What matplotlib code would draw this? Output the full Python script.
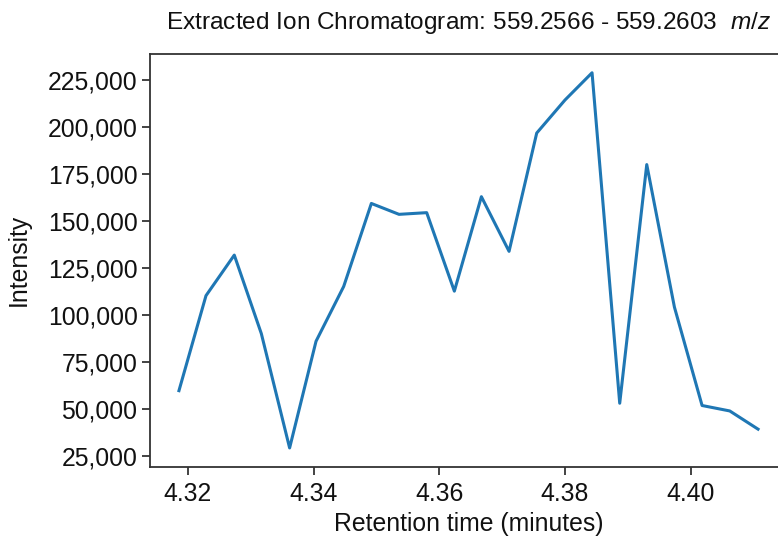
import matplotlib
matplotlib.use("Agg")
import matplotlib.pyplot as plt
from matplotlib.ticker import FuncFormatter

retention_time = [4.3186, 4.3229, 4.3274, 4.3317, 4.3362, 4.3404, 4.3448, 4.3492,
                  4.3536, 4.3580, 4.3624, 4.3667, 4.3711, 4.3755, 4.3800, 4.3843,
                  4.3887, 4.3930, 4.3974, 4.4018, 4.4062, 4.4107]
intensity = [59600, 110200, 131800, 90000, 29100, 85900, 115100, 159300,
             153500, 154400, 112600, 162900, 133800, 196800, 214400, 228900,
             52900, 180000, 104100, 51700, 48800, 39100]
xticks = [4.32, 4.34, 4.36, 4.38, 4.40]
yticks = [25000, 50000, 75000, 100000, 125000, 150000, 175000, 200000, 225000]

plt.rcParams['font.family'] = ['Liberation Sans', 'DejaVu Sans']
plt.rcParams['mathtext.fontset'] = 'custom'
plt.rcParams['mathtext.rm'] = 'Liberation Sans'
plt.rcParams['mathtext.it'] = 'Liberation Sans:italic'

fig = plt.figure(figsize=(7.78, 5.37), dpi=100)
ax = fig.add_axes([150/778, 1-466.7/537, (787-150)/778, (466.7-54)/537])
ax.plot(retention_time, intensity, color='#1f77b4', linewidth=2.2)
ax.set_xticks(xticks)
ax.set_yticks(yticks)
ax.xaxis.set_major_formatter(FuncFormatter(lambda v, p: f"{v:.2f}"))
ax.yaxis.set_major_formatter(FuncFormatter(lambda v, p: f"{int(v):,}"))
ax.tick_params(labelsize=17.8, length=6, width=1.2, colors='#222222', labelcolor='#111111')
ax.tick_params(axis='x', pad=5)
ax.tick_params(axis='y', pad=3)
for s in ax.spines.values():
    s.set_linewidth(1.3)
    s.set_color('#333333')
ax.set_xlabel("Retention time (minutes)", fontsize=17.8, color='#111111', labelpad=4)
ax.set_ylabel("Intensity", fontsize=17.8, color='#111111', labelpad=12)
ax.set_title("Extracted Ion Chromatogram: 559.2566 - 559.2603  $\\it{m/z}$", fontsize=17.6, pad=18, color='#111111')
fig.savefig("out.png", dpi=100, facecolor='white')
